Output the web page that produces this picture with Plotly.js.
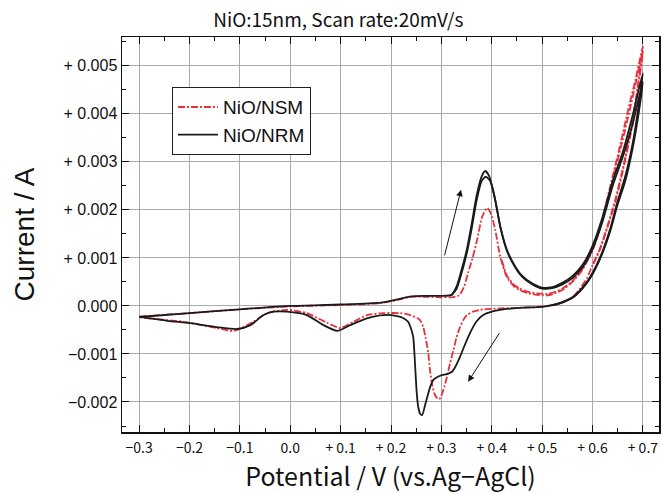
<!DOCTYPE html>
<html>
<head>
<meta charset="utf-8">
<script src="https://cdn.plot.ly/plotly-3.0.1.min.js"></script>
<style>html,body{margin:0;padding:0;background:#fff;}#chart{width:662px;height:493px;}</style>
</head>
<body>
<div id="chart"></div>
<script>
// NiO/NRM, cycle 1 (full loop: anodic then cathodic)
const nrmX1 = [-0.30,-0.20,-0.10,0.00,0.10,0.18,0.21,0.24,0.27,0.30,0.32,0.33,0.34,0.35,0.36,0.37,0.38,0.387,0.395,0.405,0.417,0.43,0.445,0.46,0.48,0.50,0.52,0.54,0.56,0.58,0.60,0.62,0.64,0.66,0.68,0.70,
  0.69,0.68,0.665,0.649,0.635,0.621,0.608,0.595,0.58,0.562,0.54,0.522,0.50,0.456,0.417,0.40,0.383,0.37,0.357,0.345,0.337,0.328,0.321,0.311,0.301,0.292,0.284,0.279,0.274,0.268,0.262,0.258,0.254,0.251,0.248,0.246,0.244,0.239,0.234,0.224,0.212,0.185,0.152,0.119,0.093,0.066,0.033,-0.007,-0.033,-0.053,-0.079,-0.105,-0.146,-0.198,-0.244,-0.298];
const nrmY1 = [-0.00023,-0.00015,-0.00007,0.0,0.00003,0.00007,0.00013,0.00020,0.00021,0.00021,0.00023,0.00040,0.00075,0.00115,0.00170,0.00230,0.00270,0.00281,0.00270,0.00230,0.00165,0.00117,0.00085,0.00063,0.00047,0.00038,0.00039,0.00048,0.00062,0.00085,0.00125,0.00185,0.00260,0.00320,0.00398,0.00485,
  0.00405,0.00340,0.00270,0.00215,0.00160,0.00117,0.00085,0.00060,0.00038,0.00019,0.00008,0.00002,-0.00002,-0.00004,-0.00008,-0.00012,-0.00019,-0.00032,-0.00056,-0.00085,-0.00106,-0.00126,-0.00137,-0.00142,-0.00144,-0.00148,-0.00154,-0.00165,-0.00182,-0.00205,-0.00227,-0.00225,-0.00210,-0.00180,-0.00127,-0.00090,-0.00064,-0.00045,-0.00033,-0.00025,-0.00021,-0.00019,-0.00026,-0.00040,-0.00052,-0.00040,-0.00019,-0.00012,-0.00012,-0.00019,-0.00040,-0.00048,-0.00044,-0.00036,-0.00031,-0.00023];
// NiO/NRM, cycle 2 (part that separates from cycle 1)
const nrmX2 = [0.32,0.33,0.34,0.35,0.36,0.37,0.38,0.388,0.397,0.407,0.418,0.43,0.445,0.46,0.48,0.50,0.52,0.54,0.56,0.58,0.60,0.62,0.64,0.66,0.68,0.70,
  0.69,0.68,0.665,0.649,0.635,0.621,0.608,0.595,0.58,0.562,0.54,0.52];
const nrmY2 = [0.00022,0.00035,0.00068,0.00108,0.00160,0.00220,0.00260,0.00269,0.00260,0.00220,0.00160,0.00115,0.00083,0.00061,0.00045,0.00036,0.00037,0.00045,0.00058,0.00080,0.00118,0.00176,0.00250,0.00310,0.00380,0.00467,
  0.00390,0.00330,0.00260,0.00208,0.00155,0.00113,0.00082,0.00057,0.00036,0.00018,0.00007,0.00001];
// NiO/NSM, cycle 1
const nsmX1 = [-0.30,-0.20,-0.10,0.00,0.10,0.18,0.21,0.24,0.27,0.30,0.32,0.335,0.345,0.353,0.362,0.371,0.381,0.391,0.399,0.407,0.417,0.43,0.445,0.456,0.47,0.49,0.51,0.522,0.54,0.56,0.58,0.60,0.62,0.64,0.655,0.67,0.685,0.70,
  0.69,0.68,0.661,0.645,0.631,0.615,0.60,0.589,0.575,0.56,0.536,0.51,0.48,0.45,0.42,0.40,0.377,0.362,0.351,0.343,0.337,0.330,0.324,0.317,0.311,0.306,0.301,0.298,0.294,0.290,0.286,0.281,0.277,0.274,0.269,0.264,0.258,0.252,0.235,0.218,0.185,0.152,0.126,0.099,0.073,0.033,-0.007,-0.046,-0.073,-0.112,-0.146,-0.212,-0.30];
const nsmY1 = [-0.00023,-0.00015,-0.00007,-0.00001,0.00002,0.00006,0.00012,0.00019,0.00019,0.00018,0.00018,0.00022,0.00040,0.00069,0.00100,0.00138,0.00186,0.00204,0.00190,0.00158,0.00102,0.00060,0.00040,0.00033,0.00027,0.00023,0.00022,0.00025,0.00033,0.00050,0.00075,0.00118,0.00185,0.00270,0.00335,0.00405,0.00470,0.00540,
  0.00460,0.00390,0.00290,0.00220,0.00171,0.00120,0.00085,0.00058,0.00036,0.00018,0.00006,0.0,-0.00003,-0.00004,-0.00005,-0.00006,-0.00008,-0.00012,-0.00019,-0.00030,-0.00044,-0.00066,-0.00092,-0.00120,-0.00148,-0.00168,-0.00184,-0.00192,-0.00194,-0.00190,-0.00182,-0.00160,-0.00130,-0.00098,-0.00068,-0.00044,-0.00030,-0.00025,-0.00018,-0.00015,-0.00015,-0.00019,-0.00033,-0.00046,-0.00035,-0.00015,-0.00008,-0.00015,-0.00033,-0.00052,-0.00046,-0.00033,-0.00023];
// NiO/NSM, cycle 2 (part that separates from cycle 1)
const nsmX2 = [0.42,0.43,0.445,0.456,0.47,0.49,0.51,0.522,0.54,0.56,0.58,0.60,0.62,0.64,0.655,0.67,0.685,0.70,
  0.69,0.68,0.661,0.645,0.631,0.615,0.60];
const nsmY2 = [0.00095,0.00063,0.00043,0.00036,0.00030,0.00026,0.00025,0.00028,0.00036,0.00052,0.00078,0.00115,0.00180,0.00262,0.00325,0.00390,0.00460,0.00530,
  0.00450,0.00380,0.00285,0.00215,0.00168,0.00118,0.00083];

const xTickVals = [-0.3,-0.2,-0.1,0.0,0.1,0.2,0.3,0.4,0.5,0.6,0.7];
const xTickText = ['\u22120.3','\u22120.2','\u22120.1','0.0','+ 0.1','+ 0.2','+ 0.3','+ 0.4','+ 0.5','+ 0.6','+ 0.7'];
const yTickVals = [-0.002,-0.001,0.0,0.001,0.002,0.003,0.004,0.005];
const yTickText = ['\u22120.002','\u22120.001','0.000','+ 0.001','+ 0.002','+ 0.003','+ 0.004','+ 0.005'];

const RED = '#e8303c';
const BLK = '#1a1a1a';
const redDash = '7px,2px,2px,2px';

const traces = [
  {x: nsmX1, y: nsmY1, mode:'lines', name:'NiO/NSM', line:{color:RED, width:1.8, dash:redDash, shape:'spline', smoothing:0.6}},
  {x: nsmX2, y: nsmY2, mode:'lines', name:'NiO/NSM', showlegend:false, line:{color:RED, width:1.8, dash:redDash, shape:'spline', smoothing:0.6}},
  {x: nrmX1, y: nrmY1, mode:'lines', name:'NiO/NRM', line:{color:BLK, width:1.8, shape:'spline', smoothing:0.6}},
  {x: nrmX2, y: nrmY2, mode:'lines', name:'NiO/NRM', showlegend:false, line:{color:BLK, width:1.8, shape:'spline', smoothing:0.6}}
];

const gothic = '"Noto Sans CJK JP", "Noto Sans", sans-serif';
const arial = '"Liberation Sans", Arial, sans-serif';

const layout = {
  width: 662, height: 493,
  margin: {l:122, r:3, t:37, b:61},
  paper_bgcolor:'#fff', plot_bgcolor:'#fff',
  title: {text:'NiO:15nm, Scan rate:20mV/s', font:{family:gothic, size:19, color:'#111'},
          x:0.511, xref:'container', xanchor:'center', y:0.959, yref:'container', yanchor:'middle'},
  showlegend: true,
  legend: {x:0.093, y:0.873, xanchor:'left', yanchor:'top', bgcolor:'#fff', bordercolor:'#222', borderwidth:1,
           font:{family:arial, size:19, color:'#111'}, tracegroupgap:0, itemwidth:40},
  xaxis: {
    range:[-0.334, 0.732], tickmode:'array', tickvals:xTickVals, ticktext:xTickText,
    ticks:'inside', ticklen:7, tickwidth:1, tickcolor:'#111', ticklabelstandoff:3,
    showgrid:true, gridcolor:'#a8a8a8', gridwidth:1, zeroline:false,
    showline:true, linecolor:'#111', linewidth:1.5, mirror:'ticks',
    minor:{dtick:0.05, tick0:0, ticks:'inside', ticklen:4, tickcolor:'#111', showgrid:false},
    tickfont:{family:gothic, size:14, color:'#111'},
    title:{text:'Potential / V (vs.Ag\u2212AgCl)', font:{family:gothic, size:25, color:'#111'}, standoff:3}
  },
  yaxis: {
    range:[-0.002625, 0.0056], tickmode:'array', tickvals:yTickVals, ticktext:yTickText,
    ticks:'inside', ticklen:7, tickwidth:1, tickcolor:'#111',
    showgrid:true, gridcolor:'#a8a8a8', gridwidth:1, zeroline:false,
    showline:true, linecolor:'#111', linewidth:1.5, mirror:'ticks',
    minor:{dtick:0.0005, tick0:0, ticks:'inside', ticklen:4, tickcolor:'#111', showgrid:false},
    tickfont:{family:arial, size:16, color:'#111'},
    title:{text:'Current / A', font:{family:arial, size:28, color:'#111'}, standoff:20}
  },
  annotations: [
    {x:0.339, y:0.00242, ax:0.3056, ay:0.00102, xref:'x', yref:'y', axref:'x', ayref:'y',
     showarrow:true, arrowhead:2, arrowsize:1.3, arrowwidth:1, arrowcolor:'#111', text:''},
    {x:0.353, y:-0.00158, ax:0.4167, ay:-0.00054, xref:'x', yref:'y', axref:'x', ayref:'y',
     showarrow:true, arrowhead:2, arrowsize:1.3, arrowwidth:1, arrowcolor:'#111', text:''}
  ]
};

Plotly.newPlot('chart', traces, layout, {displayModeBar:false, staticPlot:true});
</script>
</body>
</html>
